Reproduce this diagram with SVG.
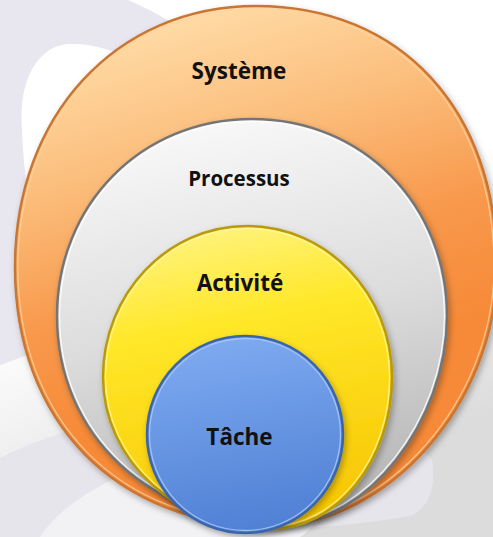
<svg xmlns="http://www.w3.org/2000/svg" width="493" height="537" viewBox="0 0 493 537">
  <defs>
    <linearGradient id="bgGrad" x1="0" y1="0" x2="0.35" y2="1">
      <stop offset="0.55" stop-color="#ffffff"/>
      <stop offset="1" stop-color="#dcdcdc"/>
    </linearGradient>
    <linearGradient id="gOrange" x1="0.4" y1="0" x2="0.6" y2="0.7">
      <stop offset="0" stop-color="#ffdba6"/>
      <stop offset="0.35" stop-color="#fbbd7b"/>
      <stop offset="0.7" stop-color="#f8984b"/>
      <stop offset="1" stop-color="#f68a38"/>
    </linearGradient>
    <linearGradient id="gGray" x1="0.4" y1="0" x2="0.6" y2="1">
      <stop offset="0" stop-color="#f8f8f8"/>
      <stop offset="0.5" stop-color="#dcdcdc"/>
      <stop offset="1" stop-color="#b3b3b3"/>
    </linearGradient>
    <linearGradient id="gYellow" x1="0.4" y1="0" x2="0.6" y2="1">
      <stop offset="0" stop-color="#fff27c"/>
      <stop offset="0.3" stop-color="#ffe82a"/>
      <stop offset="1" stop-color="#f7c500"/>
    </linearGradient>
    <linearGradient id="gBlue" x1="0.4" y1="0" x2="0.6" y2="1">
      <stop offset="0" stop-color="#7eaaf0"/>
      <stop offset="1" stop-color="#4f7fd4"/>
    </linearGradient>
    <filter id="shadow" x="-10%" y="-10%" width="120%" height="120%">
      <feDropShadow dx="2" dy="3" stdDeviation="3" flood-color="#000" flood-opacity="0.3"/>
    </filter>
    <path id="shOrange" d="M256,6 C401,6 497,110 497,267 C497,402 388,526 270,526 C117,526 15,422 15,267 C15,116 116,6 256,6 Z"/>
    <path id="shGray" d="M252,119 C363,119 447,205 447,316 C447,422 366,524 285,524 C148,524 57,434 57,316 C57,205 141,119 252,119 Z"/>
    <path id="shYellow" d="M247,226 C327,226 392,294 392,377 C392,461 337,529 270,529 C178,529 103,461 103,377 C103,294 167,226 247,226 Z"/>
    <style>
      .lbl { font-family: "Open Sans", "Noto Sans", "DejaVu Sans", sans-serif; font-weight: 700; fill: #111111; text-anchor: middle; }
      .hl { fill: none; }
    </style>
  </defs>

  <!-- background -->
  <g id="background">
    <rect x="0" y="0" width="493" height="537" fill="url(#bgGrad)"/>
    <path d="M0,0 H128 C170,18 210,45 240,80 L70,340 L0,365 Z" fill="#e8e6ee"/>
    <path d="M22,130 C18,80 38,46 68,44 C110,42 150,66 185,105 L65,340 C42,270 24,200 22,130 Z" fill="#ffffff"/>
    <path d="M0,458 C50,432 120,415 200,408 L300,420 C360,430 420,440 432,460 C436,485 430,508 410,516 C300,535 120,537 0,537 Z" fill="#e7e5ec"/>
    <path d="M40,537 C60,505 110,475 175,455 L300,470 C330,500 320,525 300,537 Z" fill="#f2f2f4"/>
  </g>

  <!-- Système -->
  <g id="systeme">
    <use href="#shOrange" fill="url(#gOrange)" stroke="#c97634" stroke-width="2.5" filter="url(#shadow)"/>
    <use href="#shOrange" class="hl" transform="translate(256 267) scale(0.988) translate(-256 -267)" stroke="#ffd39c" stroke-width="1.3" opacity="0.8"/>
    <text class="lbl" x="239" y="79" font-size="22.5">Système</text>
  </g>

  <!-- Processus -->
  <g id="processus">
    <use href="#shGray" fill="url(#gGray)" stroke="#747474" stroke-width="2.5" filter="url(#shadow)"/>
    <use href="#shGray" class="hl" transform="translate(252 322) scale(0.987) translate(-252 -322)" stroke="#ffffff" stroke-width="1.3" opacity="0.85"/>
    <text class="lbl" x="239" y="186" font-size="20.5">Processus</text>
  </g>

  <!-- Activité -->
  <g id="activite">
    <use href="#shYellow" fill="url(#gYellow)" stroke="#b99a10" stroke-width="2.5" filter="url(#shadow)"/>
    <use href="#shYellow" class="hl" transform="translate(247 377) scale(0.983) translate(-247 -377)" stroke="#fff7a0" stroke-width="1.3" opacity="0.8"/>
    <text class="lbl" x="240" y="291" font-size="22.5">Activité</text>
  </g>

  <!-- Tâche -->
  <g id="tache">
    <ellipse cx="245" cy="434.5" rx="98" ry="98.5" fill="url(#gBlue)" stroke="#3b65aa" stroke-width="2.5" filter="url(#shadow)"/>
    <ellipse class="hl" cx="245" cy="434.5" rx="95.5" ry="96" stroke="#a9c8f6" stroke-width="1.3" opacity="0.85"/>
    <text class="lbl" x="239.5" y="445" font-size="22.5">Tâche</text>
  </g>

  <g id="connectors"/>
</svg>
